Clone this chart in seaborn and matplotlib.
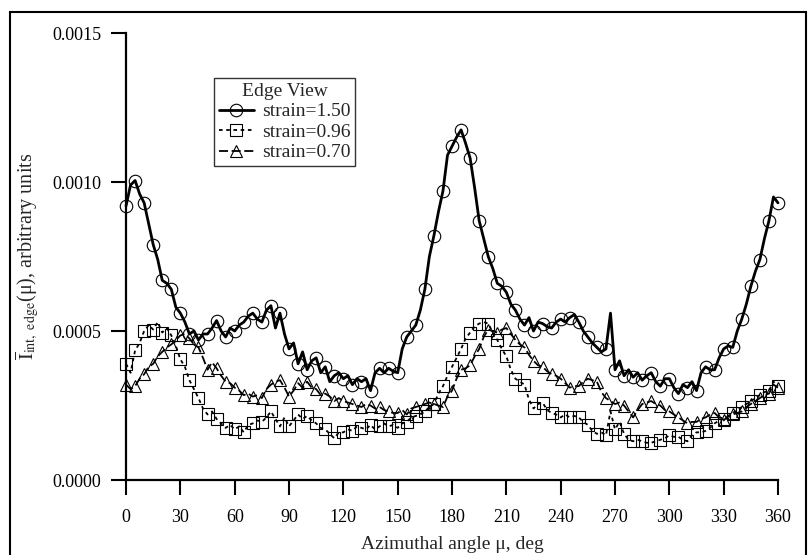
import numpy as np
import pandas as pd
import seaborn as sns
import matplotlib.pyplot as plt
from matplotlib.patches import Rectangle
from matplotlib.ticker import FormatStrFormatter

# azimuthal angle grid, deg (one reading every 2.5 deg)
angle = np.arange(0, 360.1, 2.5)

# intensity, in units of 1e-4
strain_150 = [
    9.2, 9.9, 10.05, 9.6, 9.3, 8.6, 7.9, 7.4, 6.7, 6.6, 6.4, 5.8,
    5.6, 5.3, 4.9, 5.0, 4.7, 4.9, 4.9, 5.1, 5.35, 5.0, 4.8, 5.1,
    5.0, 5.2, 5.3, 5.5, 5.6, 5.4, 5.3, 5.7, 5.85, 5.1, 5.6, 4.9,
    4.4, 4.6, 3.9, 4.3, 3.7, 4.0, 4.1, 3.6, 3.8, 3.3, 3.5, 3.6,
    3.4, 3.5, 3.2, 3.4, 3.3, 3.4, 3.0, 3.6, 3.75, 3.6, 3.75, 3.65,
    3.6, 4.4, 4.8, 5.0, 5.2, 5.7, 6.4, 7.5, 8.2, 9.0, 9.7, 10.9,
    11.2, 11.5, 11.75, 11.3, 10.8, 9.8, 8.7, 8.1, 7.5, 7.1, 6.6, 6.5,
    6.3, 5.9, 5.7, 5.4, 5.2, 5.45, 5.0, 5.3, 5.25, 5.15, 5.1, 5.3,
    5.4, 5.3, 5.45, 5.55, 5.3, 5.0, 4.8, 4.6, 4.45, 4.3, 4.4, 5.6,
    3.7, 4.0, 3.5, 3.7, 3.45, 3.6, 3.35, 3.5, 3.6, 3.3, 3.15, 3.4,
    3.4, 3.1, 2.9, 3.2, 3.1, 3.3, 3.0, 3.6, 3.8, 3.7, 3.7, 4.1,
    4.4, 4.5, 4.45, 5.0, 5.4, 5.9, 6.5, 7.0, 7.4, 8.1, 8.7, 9.5,
    9.3,
]
strain_096 = [
    3.9, 3.6, 4.35, 4.6, 5.0, 5.2, 5.05, 5.3, 4.95, 5.1, 4.85, 4.5,
    4.05, 3.8, 3.35, 3.05, 2.75, 2.4, 2.2, 2.3, 2.05, 1.9, 1.75, 1.85,
    1.7, 1.8, 1.6, 1.85, 1.9, 2.0, 1.95, 2.1, 2.3, 2.05, 1.8, 2.1,
    1.8, 2.0, 2.2, 2.05, 2.15, 2.0, 1.9, 1.75, 1.7, 1.55, 1.4, 1.6,
    1.6, 1.7, 1.65, 1.8, 1.75, 1.7, 1.85, 1.7, 1.8, 1.9, 1.8, 1.85,
    1.75, 1.9, 1.95, 2.1, 2.15, 2.2, 2.3, 2.45, 2.55, 2.9, 3.15, 3.5,
    3.8, 4.1, 4.4, 4.75, 4.95, 5.15, 5.25, 5.3, 5.25, 4.95, 4.7, 4.4,
    4.15, 3.7, 3.4, 3.3, 3.2, 2.7, 2.4, 2.55, 2.6, 2.35, 2.25, 2.2,
    2.1, 2.2, 2.1, 2.15, 2.1, 1.95, 1.85, 1.65, 1.55, 1.6, 1.5, 2.3,
    1.7, 1.95, 1.55, 1.35, 1.3, 1.35, 1.3, 1.25, 1.25, 1.3, 1.35, 1.4,
    1.5, 1.45, 1.45, 1.35, 1.3, 1.5, 1.6, 1.6, 1.65, 1.75, 1.9, 2.0,
    2.05, 2.15, 2.25, 2.35, 2.45, 2.55, 2.65, 2.75, 2.85, 2.95, 3.0, 3.3,
    3.15,
]
strain_070 = [
    3.2, 3.05, 3.15, 3.4, 3.55, 3.8, 3.9, 4.15, 4.3, 4.45, 4.55, 4.7,
    4.85, 4.9, 4.75, 4.55, 4.45, 4.1, 3.7, 3.95, 3.75, 3.5, 3.3, 3.25,
    3.1, 3.0, 2.85, 2.9, 2.8, 2.85, 2.75, 3.05, 3.2, 3.3, 3.35, 3.1,
    2.8, 3.0, 3.25, 3.1, 3.3, 3.1, 3.05, 2.85, 2.9, 2.8, 2.65, 2.75,
    2.65, 2.6, 2.55, 2.5, 2.45, 2.55, 2.5, 2.4, 2.45, 2.35, 2.3, 2.25,
    2.25, 2.35, 2.2, 2.4, 2.45, 2.5, 2.55, 2.6, 2.55, 2.5, 2.45, 2.8,
    3.0, 3.4, 3.7, 3.75, 3.85, 4.15, 4.4, 4.8, 5.05, 5.0, 4.95, 5.05,
    5.1, 4.9, 4.7, 4.55, 4.45, 4.2, 4.0, 3.85, 3.8, 3.65, 3.55, 3.5,
    3.4, 3.25, 3.1, 3.15, 3.15, 3.3, 3.4, 3.35, 3.3, 2.95, 2.75, 2.65,
    2.55, 2.6, 2.5, 2.3, 2.1, 2.35, 2.55, 2.6, 2.65, 2.55, 2.5, 2.35,
    2.3, 2.2, 2.1, 2.0, 1.9, 1.95, 1.95, 2.05, 2.1, 2.2, 2.25, 2.1,
    2.0, 2.15, 2.2, 2.25, 2.3, 2.45, 2.55, 2.65, 2.75, 2.85, 2.9, 3.2,
    3.1,
]

series_labels = ["strain=1.50", "strain=0.96", "strain=0.70"]
x_ticks = [0, 30, 60, 90, 120, 150, 180, 210, 240, 270, 300, 330, 360]
y_ticks = [0.0, 0.0005, 0.0010, 0.0015]

df = pd.DataFrame({
    "angle": angle,
    series_labels[0]: np.array(strain_150) * 1e-4,
    series_labels[1]: np.array(strain_096) * 1e-4,
    series_labels[2]: np.array(strain_070) * 1e-4,
})

sns.set_style("ticks")
plt.rcParams["font.family"] = ["Liberation Serif", "DejaVu Serif"]
plt.rcParams["mathtext.fontset"] = "stix"

fig = plt.figure(figsize=(8.1, 5.55), dpi=100)
ax = fig.add_axes([0.1556, 0.1351, 0.8049, 0.8054])

# line style per series: (linestyle, marker, linewidth, marker size)
styles = {
    series_labels[0]: ("-", "o", 2.0, 9),
    series_labels[1]: ((0, (2, 2)), "s", 1.3, 8),
    series_labels[2]: ((0, (5, 2)), "^", 1.3, 9),
}
for lab in series_labels:
    ls, mk, lw, ms = styles[lab]
    sns.lineplot(data=df, x="angle", y=lab, ax=ax, color="black", linestyle=ls,
                 linewidth=lw, marker=mk, markevery=2, markersize=ms,
                 markerfacecolor="none", markeredgecolor="black",
                 markeredgewidth=0.8, label=lab, clip_on=False)

ax.set_xlim(0, 360)
ax.set_ylim(0, 0.0015)
ax.set_xticks(x_ticks)
ax.set_yticks(y_ticks)
ax.yaxis.set_major_formatter(FormatStrFormatter("%.4f"))
ax.tick_params(axis="both", direction="out", length=11, width=1.5,
               labelsize=13, colors="black")
ax.tick_params(axis="x", pad=10)
ax.tick_params(axis="y", pad=7)
sns.despine(ax=ax)
for side in ["left", "bottom"]:
    ax.spines[side].set_linewidth(1.6)
    ax.spines[side].set_color("black")

ax.set_xlabel("Azimuthal angle \u03bc, deg", fontsize=14, labelpad=7)
ax.set_ylabel(r"$\overline{\mathrm{I}}_{\mathrm{int,\ edge}}$" + "(\u03bc), arbitrary units",
              fontsize=14.5, labelpad=8)

leg = ax.legend(title="Edge View", loc="upper left",
                bbox_to_anchor=(214 / 810, 1 - 78 / 555),
                bbox_transform=fig.transFigure, fontsize=14, title_fontsize=14,
                frameon=True, fancybox=False, handlelength=1.8,
                handletextpad=0.4, borderpad=0.25, labelspacing=0.15,
                borderaxespad=0)
leg.get_frame().set_edgecolor("black")
leg.get_frame().set_linewidth(1.0)

# outer frame round the figure (its bottom edge falls outside the picture)
fig.patches.append(Rectangle((10 / 810, -0.02), 796 / 810, 1 - 12 / 555 + 0.02,
                             transform=fig.transFigure, fill=False,
                             edgecolor="black", linewidth=1.5))

fig.savefig("out.png", dpi=100)
